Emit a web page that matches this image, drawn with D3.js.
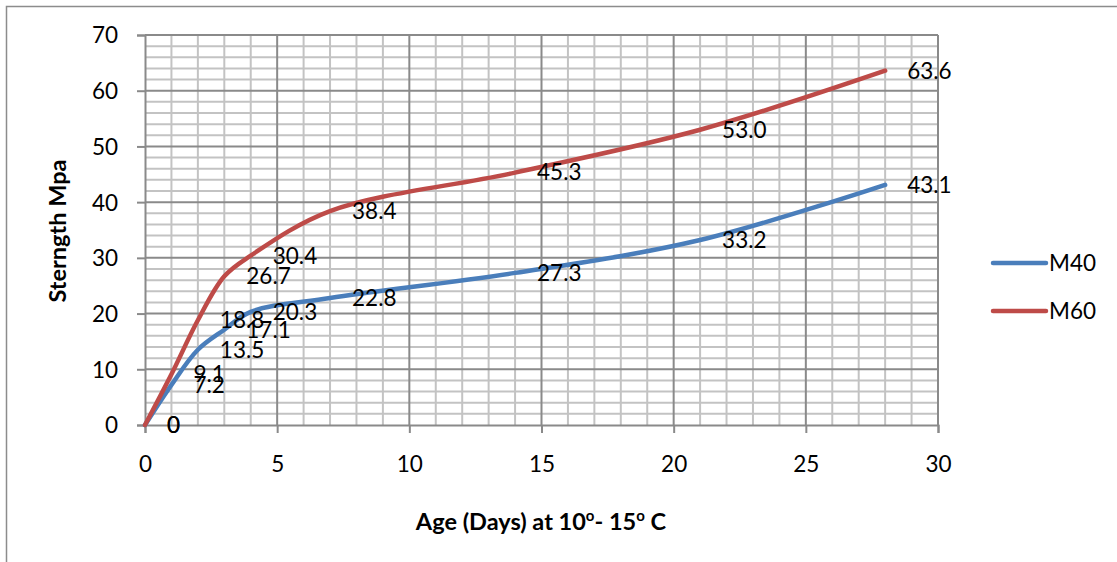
<!DOCTYPE html>
<html lang="en">
<head>
  <meta charset="UTF-8">
  <title>Strength vs Age</title>
  <script src="https://d3js.org/d3.v7.min.js"></script>
  <style>
    body { margin: 0; padding: 0; background: #fff; font-family: Lato, "Noto Sans", sans-serif; }
    svg { display: block; }
    .tick-label { font-size: 22.5px; fill: #000; }
    .data-label { font-size: 22.5px; fill: #000; }
    .axis-title { font-size: 23.5px; font-weight: bold; fill: #000; }
  </style>
</head>
<body>
  <div id="chart"></div>
  <script>
    const width = 1117;
    const height = 562;

    // data
    const days = [0, 1, 2, 3, 4, 7, 14, 21, 28];
    const m40 = [0, 7.2, 13.5, 17.1, 20.3, 22.8, 27.3, 33.2, 43.1];
    const m60 = [0, 9.1, 18.8, 26.7, 30.4, 38.4, 45.3, 53.0, 63.6];
    const seriesNames = ["M40", "M60"];
    const seriesColors = ["#4a7ebb", "#be4b48"];
    const xTicks = [0, 5, 10, 15, 20, 25, 30];
    const yTicks = [0, 10, 20, 30, 40, 50, 60, 70];

    const plot = { left: 145, right: 938, top: 35, bottom: 425 };

    const svg = d3.select("#chart")
      .append("svg")
      .attr("width", width)
      .attr("height", height);

    // outer frame
    svg.append("rect")
      .attr("x", 6.5).attr("y", 6.5)
      .attr("width", width + 20).attr("height", height + 20)
      .attr("fill", "none")
      .attr("stroke", "#8c8c8c")
      .attr("stroke-width", 1.5);

    const x = d3.scaleLinear().domain([0, 30]).range([plot.left, plot.right]);
    const y = d3.scaleLinear().domain([0, 70]).range([plot.bottom, plot.top]);

    // minor grid
    const grid = svg.append("g");
    grid.selectAll(".vminor")
      .data(d3.range(0, 31, 1).filter(d => d % 5 !== 0))
      .enter().append("line")
      .attr("x1", d => x(d)).attr("x2", d => x(d))
      .attr("y1", plot.top).attr("y2", plot.bottom)
      .attr("stroke", "#c3c3c3").attr("stroke-width", 2);
    grid.selectAll(".hminor")
      .data(d3.range(0, 71, 2).filter(d => d % 10 !== 0))
      .enter().append("line")
      .attr("x1", plot.left).attr("x2", plot.right)
      .attr("y1", d => y(d)).attr("y2", d => y(d))
      .attr("stroke", "#c3c3c3").attr("stroke-width", 2);

    // major grid
    grid.selectAll(".vmajor")
      .data(xTicks.slice(1))
      .enter().append("line")
      .attr("x1", d => x(d)).attr("x2", d => x(d))
      .attr("y1", plot.top).attr("y2", plot.bottom)
      .attr("stroke", "#8a8a8a").attr("stroke-width", 2);
    grid.selectAll(".hmajor")
      .data(yTicks.slice(1))
      .enter().append("line")
      .attr("x1", plot.left).attr("x2", plot.right)
      .attr("y1", d => y(d)).attr("y2", d => y(d))
      .attr("stroke", "#8a8a8a").attr("stroke-width", 2);

    // axes
    const xAxis = svg.append("g")
      .attr("transform", `translate(0,${plot.bottom})`)
      .call(d3.axisBottom(x).tickValues(xTicks).tickSize(8).tickPadding(25));
    const yAxis = svg.append("g")
      .attr("transform", `translate(${plot.left},0)`)
      .call(d3.axisLeft(y).tickValues(yTicks).tickSize(8).tickPadding(19));
    [xAxis, yAxis].forEach(a => {
      a.select(".domain").attr("stroke", "#8a8a8a").attr("stroke-width", 2);
      a.selectAll(".tick line").attr("stroke", "#8a8a8a").attr("stroke-width", 2);
      a.selectAll(".tick text")
        .attr("class", "tick-label")
        .style("font-family", "Lato, 'Noto Sans', sans-serif");
    });
    yAxis.selectAll(".tick text").attr("dy", "0.35em");
    xAxis.selectAll(".tick text").attr("dy", "0.6em");

    // lines
    const series = [m40, m60];
    const line = d3.line()
      .x((d, i) => x(days[i]))
      .y(d => y(d))
      .curve(d3.curveCatmullRom.alpha(0.5));

    series.forEach((vals, si) => {
      svg.append("path")
        .datum(vals)
        .attr("fill", "none")
        .attr("stroke", seriesColors[si])
        .attr("stroke-width", 4.5)
        .attr("stroke-linecap", "round")
        .attr("d", line);
    });

    // data labels
    series.forEach((vals, si) => {
      svg.append("g").selectAll("text")
        .data(vals)
        .enter().append("text")
        .attr("class", "data-label")
        .attr("x", (d, i) => x(days[i]) + 22)
        .attr("y", d => y(d))
        .attr("dy", "0.35em")
        .text(d => d === 0 ? "0" : d.toFixed(1));
    });

    // axis titles
    const xt = svg.append("text")
      .attr("class", "axis-title")
      .attr("x", 541).attr("y", 530)
      .attr("text-anchor", "middle");
    xt.append("tspan").text("Age (Days) at 10");
    xt.append("tspan").attr("dy", -9).style("font-size", "15px").text("o");
    xt.append("tspan").attr("dy", 9).text("- 15");
    xt.append("tspan").attr("dy", -9).style("font-size", "15px").text("o");
    xt.append("tspan").attr("dy", 9).text(" C");

    svg.append("text")
      .attr("class", "axis-title")
      .attr("transform", "translate(66,231) rotate(-90)")
      .attr("text-anchor", "middle")
      .text("Sterngth Mpa");

    // legend
    const legend = svg.append("g");
    seriesNames.forEach((name, i) => {
      const ly = 263 + i * 48;
      legend.append("line")
        .attr("x1", 993).attr("x2", 1046)
        .attr("y1", ly).attr("y2", ly)
        .attr("stroke", seriesColors[i])
        .attr("stroke-width", 4.5)
        .attr("stroke-linecap", "round");
      legend.append("text")
        .attr("class", "data-label")
        .attr("x", 1049).attr("y", ly)
        .attr("dy", "0.35em")
        .text(name);
    });
  </script>
</body>
</html>
